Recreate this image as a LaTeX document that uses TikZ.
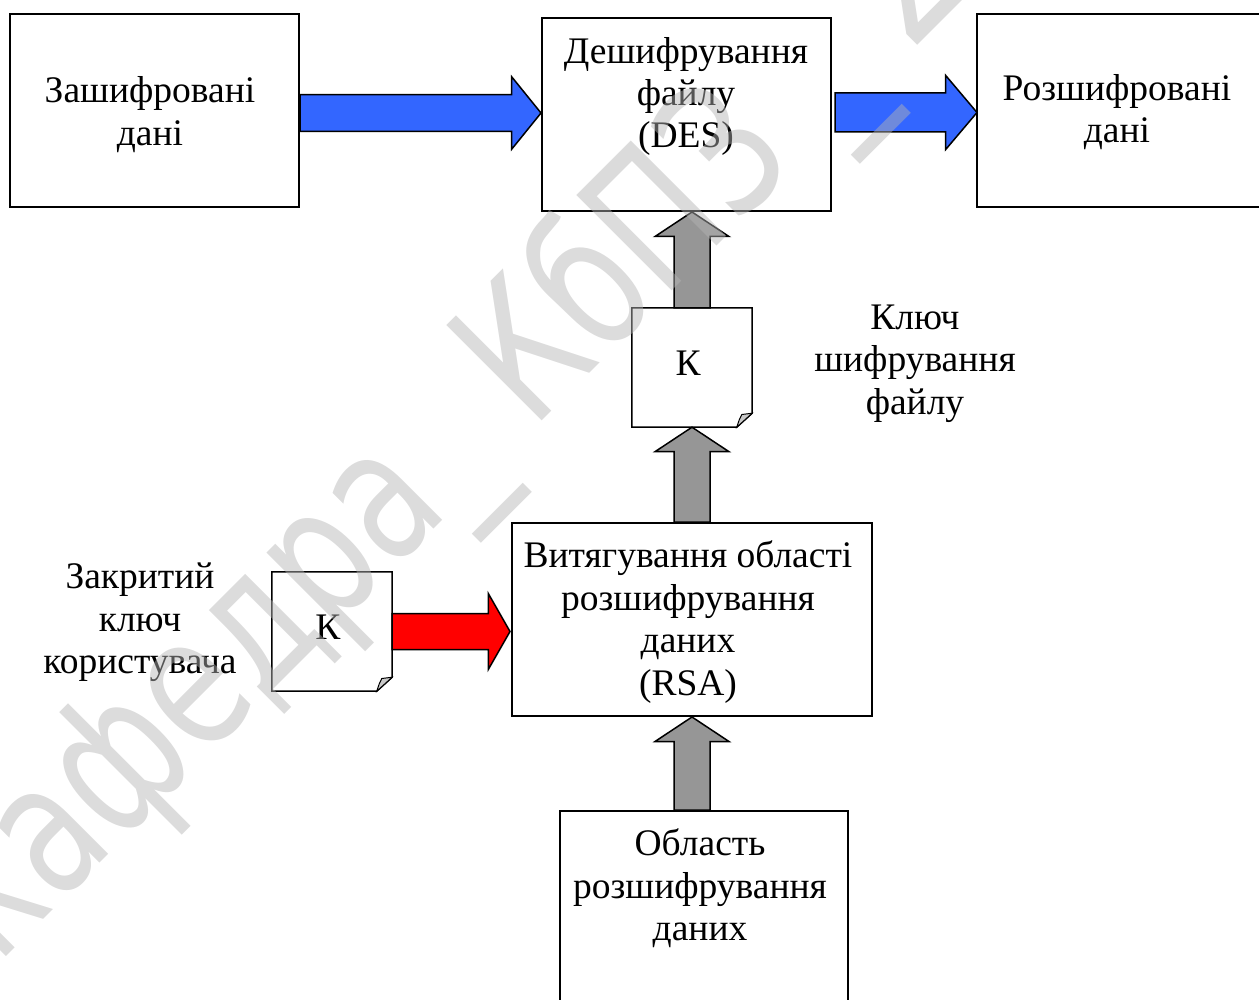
\documentclass[tikz,border=0pt]{standalone}
\usepackage{fontspec}
\setmainfont{Liberation Serif}
\newfontfamily\wmfont{DejaVu Sans}[FakeStretch=0.75]
\usetikzlibrary{calc}

\definecolor{arrblue}{RGB}{51,102,255}
\definecolor{arrred}{RGB}{255,0,0}
\definecolor{arrgray}{RGB}{150,150,150}
\definecolor{foldgray}{RGB}{200,200,200}
\definecolor{wmgray}{RGB}{180,180,180}

\tikzset{
  box/.style 2 args={draw, line width=2pt, fill=white, inner sep=0pt,
    minimum width=#1, minimum height=#2},
  docbox/.style={inner sep=0pt, minimum width=120pt, minimum height=119pt},
  docline/.style={draw, line width=1.5pt, fill=white},
  flap/.style={draw, line width=1pt, fill=foldgray},
  lbl/.style={align=center, inner sep=0pt, font=\fontsize{37.5}{42.4}\selectfont},
  blockarrow/.style={draw, line width=1.5pt, line join=miter},
  % horizontal block arrow: shaft half-width, head half-width, head length
  arrR/.style n args={3}{to path={let \p1=(\tikztostart), \p2=(\tikztotarget) in
    (\x1,\y1+#1) -- (\x2-#3,\y1+#1) -- (\x2-#3,\y1+#2) -- (\x2,\y1)
    -- (\x2-#3,\y1-#2) -- (\x2-#3,\y1-#1) -- (\x1,\y1-#1) -- cycle}},
  % vertical block arrow pointing up
  arrU/.style n args={3}{to path={let \p1=(\tikztostart), \p2=(\tikztotarget) in
    (\x1-#1,\y1) -- (\x1-#1,\y2-#3) -- (\x1-#2,\y2-#3) -- (\x1,\y2)
    -- (\x1+#2,\y2-#3) -- (\x1+#1,\y2-#3) -- (\x1+#1,\y1) -- cycle}},
  wm/.style={font=\wmfont\fontsize{185}{185}\selectfont, text=wmgray,
    opacity=0.47, inner sep=0pt, rotate=45},
}

\begin{document}
\begin{tikzpicture}[x=1pt, y=-1pt]
\useasboundingbox (0,0) rectangle (1259,1000);

% main boxes
\node[box={289pt}{193pt}] (enc) at (154.5,110.5) {};
\node[box={289pt}{193pt}] (des) at (686.5,114.5) {};
\node[box={320pt}{193pt}] (dec) at (1137,110.5) {};
\node[box={360pt}{193pt}] (ext) at (692,619.5) {};
\node[box={288pt}{193pt}] (obl) at (704,907.5) {};

% key documents with folded corner
\node[docbox] (kd1) at (692,367.5) {};
\node[docbox] (kd2) at (332,631.5) {};
\foreach \d in {kd1,kd2}{
  \path[docline] (\d.north west) -- (\d.north east) -- ([yshift=14pt]\d.south east)
    -- ([xshift=-15.4pt]\d.south east) -- (\d.south west) -- cycle;
  \path[flap] ([xshift=-15.4pt]\d.south east)
    .. controls ([xshift=-12.7pt,yshift=8.4pt]\d.south east) .. ([xshift=-10.4pt,yshift=12.7pt]\d.south east)
    -- ([yshift=14pt]\d.south east) -- cycle;
}

% labels (anchored at the baseline of the last line)
\node[lbl, anchor=base] (tenc) at (150,145.4) {Зашифровані\\дані};
\node[lbl, anchor=base] (tdes) at (686,148) {Дешифрування\\файлу\\(DES)};
\node[lbl, anchor=base] (tdec) at (1117,143) {Розшифровані\\дані};
\node[lbl, anchor=base] (tkey) at (915,414) {Ключ\\шифрування\\файлу};
\node[lbl, anchor=base] (tpriv) at (140,673.6) {Закритий\\ключ\\користувача};
\node[lbl, anchor=base] (text) at (688,695) {Витягування області\\розшифрування\\даних\\(RSA)};
\node[lbl, anchor=base] (tobl) at (700,940.7) {Область\\розшифрування\\даних};
\node[lbl, anchor=base] (k1) at (688,376) {К};
\node[lbl, anchor=base] (k2) at (328,639) {К};

% block arrows
\path[blockarrow, fill=arrblue] ([yshift=-2.5pt]enc.east) to[arrR={18.3pt}{36.2pt}{29.3pt}] (des.west);
\path[blockarrow, fill=arrblue] ([xshift=3pt,yshift=2pt]des.east) to[arrR={19.5pt}{37pt}{31.3pt}] ([xshift=1pt]dec.west);
\path[blockarrow, fill=arrred] (kd2.east) to[arrR={18pt}{38pt}{21.7pt}] ([xshift=-1pt]ext.west);
\path[blockarrow, fill=arrgray] (kd1.north) to[arrU={18pt}{37pt}{24.5pt}] (des.south);
\path[blockarrow, fill=arrgray] (ext.north) to[arrU={18pt}{37pt}{24.5pt}] (kd1.south);
\path[blockarrow, fill=arrgray] (obl.north -| ext.north) to[arrU={18pt}{37pt}{24.5pt}] (ext.south);

% watermark
\node[wm, anchor=base] (wmu) at (476.5,486.5) {\_};
\node[wm, anchor=base east] (wml) at (wmu.base west) {кафедра\ };
\node[wm, anchor=base west] (wmr) at (wmu.base east) {\ КбПЗ \_ 20};
\end{tikzpicture}
\end{document}
